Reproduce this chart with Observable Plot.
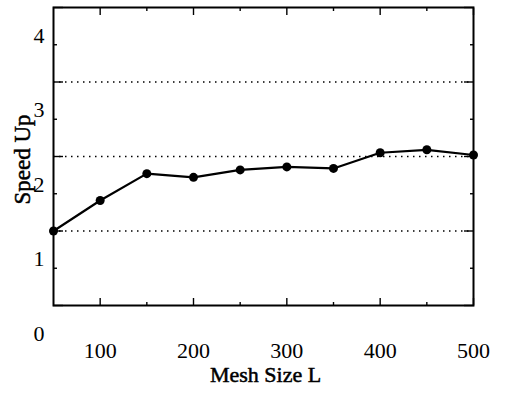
<!DOCTYPE html>
<html><head><meta charset="utf-8">
<script src="https://cdn.jsdelivr.net/npm/d3@7"></script>
<script src="https://cdn.jsdelivr.net/npm/@observablehq/plot@0.6"></script>
<style>body{margin:0;background:#fff}</style>
</head><body><div id="chart"></div>
<script>
const meshSize = [50,100,150,200,250,300,350,400,450,500];
const speedUp = [1.00,1.41,1.77,1.72,1.82,1.86,1.84,2.05,2.09,2.02];
const xTickLabels = [100,200,300,400,500];
const xMinorTicks = [150,250,350,450];
const yTickLabels = [0,1,2,3,4];
const yMinorTicks = [0.5,1.5,2.5,3.5];
const gridValues = [1,2,3];
const xLabel = "Mesh Size L";
const yLabel = "Speed Up";

const data = meshSize.map((m, i) => ({mesh: m, speed: speedUp[i]}));
const font = "Liberation Serif, Times New Roman, serif";
const tickOpts = (size) => ({tickSize: size, text: null, label: null, strokeWidth: 1.4});
const heavy = {stroke: "#000", strokeWidth: 0.5};

const chart = Plot.plot({
  width: 505,
  height: 395,
  marginLeft: 53,
  marginRight: 32,
  marginTop: 7,
  marginBottom: 90,
  style: {fontFamily: font, background: "#fff", color: "#000"},
  x: {domain: [50, 500]},
  y: {domain: [0, 4]},
  marks: [
    Plot.ruleY(gridValues, {stroke: "#000", strokeWidth: 1.4, strokeDasharray: "1.5,4.5"}),
    Plot.axisX(xTickLabels, {anchor: "bottom", ...tickOpts(-7)}),
    Plot.axisX(xTickLabels, {anchor: "top", ...tickOpts(-7)}),
    Plot.axisX(xMinorTicks, {anchor: "bottom", ...tickOpts(-3)}),
    Plot.axisX(xMinorTicks, {anchor: "top", ...tickOpts(-3)}),
    Plot.axisY(yTickLabels, {anchor: "left", ...tickOpts(-10)}),
    Plot.axisY(yTickLabels, {anchor: "right", ...tickOpts(-10)}),
    Plot.axisY(yMinorTicks, {anchor: "left", ...tickOpts(-4)}),
    Plot.axisY(yMinorTicks, {anchor: "right", ...tickOpts(-4)}),
    Plot.axisX(xTickLabels, {anchor: "bottom", tickSize: 0, tickPadding: 37, fontSize: 22, label: null, tickFormat: d => String(d), ...heavy}),
    Plot.axisY(yTickLabels, {anchor: "left", tickSize: 0, tickPadding: 9, dy: 28, fontSize: 22, label: null, tickFormat: d => String(d), ...heavy}),
    Plot.frame({stroke: "#000", strokeWidth: 2}),
    Plot.line(data, {x: "mesh", y: "speed", stroke: "#000", strokeWidth: 2.2}),
    Plot.dot(data, {x: "mesh", y: "speed", r: 4.5, fill: "#000", stroke: "none"}),
    Plot.text([xLabel], {frameAnchor: "bottom", dy: 76, dx: 2, fontSize: 22, fill: "#000", ...heavy}),
    Plot.text([yLabel], {frameAnchor: "left", textAnchor: "middle", rotate: -90, dx: -31, dy: 3, fontSize: 23, fill: "#000", letterSpacing: "1px", ...heavy})
  ]
});
document.getElementById("chart").appendChild(chart);
</script>
</body></html>
